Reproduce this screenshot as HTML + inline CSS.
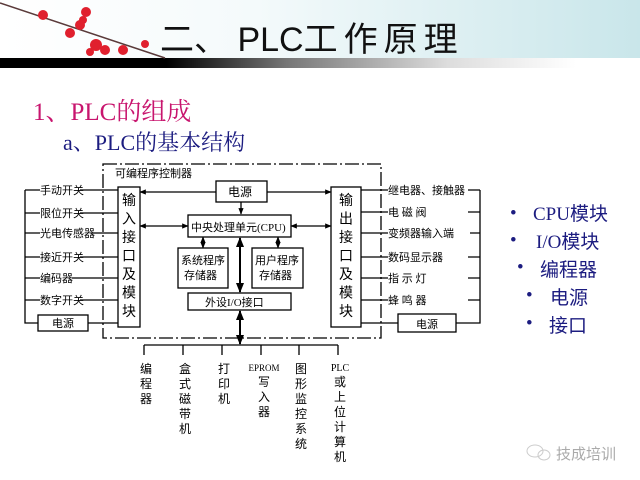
<!DOCTYPE html>
<html><head><meta charset="utf-8"><style>
body{margin:0;width:640px;height:480px;overflow:hidden;background:#fff;position:relative;font-family:"Liberation Serif","Noto Serif CJK SC",serif}
.hdr{position:absolute;left:0;top:0;width:640px;height:58px;background:linear-gradient(90deg,#fff 0%,#f4fafb 40%,#c9e6ea 100%)}
.bar{position:absolute;left:0;top:58px;width:640px;height:10px;background:linear-gradient(90deg,#000 0%,#000 26%,#777 45%,#ddd 70%,#fff 90%)}
.t{position:absolute;white-space:nowrap}
</style></head><body>
<div class="hdr"></div>
<div class="bar"></div>
<svg style="position:absolute;left:0;top:0" width="200" height="60">
<line x1="0" y1="3" x2="165" y2="58" stroke="#5a3a3a" stroke-width="1.5"/>
<g fill="#e0202e">
<circle cx="43" cy="15" r="5"/><circle cx="86" cy="12" r="5"/><circle cx="83" cy="20" r="4"/><circle cx="80" cy="25" r="5"/>
<circle cx="70" cy="33" r="5"/><circle cx="96" cy="45" r="6"/><circle cx="105" cy="50" r="5"/><circle cx="123" cy="50" r="5"/><circle cx="145" cy="44" r="4"/><circle cx="90" cy="52" r="4"/></g>
</svg>
<div class="t" style="left:160px;top:12px;font-size:34px;font-family:'Liberation Sans','Noto Sans CJK SC',sans-serif;color:#111">二、 PLC<span style="letter-spacing:6px">工作原理</span></div>
<div class="t" style="left:33px;top:92px;font-size:25px;color:#c8156e">1、PLC的组成</div>
<div class="t" style="left:63px;top:126px;font-size:22px;color:#1c1c80">a、PLC的基本结构</div>

<svg style="position:absolute;left:0;top:0" width="640" height="480" font-family="'Liberation Serif','Noto Sans CJK SC',sans-serif" font-size="11">
<defs><marker id="a" viewBox="0 0 10 10" refX="9" refY="5" markerWidth="6" markerHeight="5" orient="auto-start-reverse"><path d="M0,1 L10,5 L0,9z" fill="#000"/></marker></defs>
<g fill="none" stroke="#000" stroke-width="1.3">
<rect x="103" y="164" width="278" height="174" stroke-dasharray="14,3,2,3"/>
<rect x="118" y="187" width="22" height="140" fill="#fff"/>
<rect x="331" y="187" width="30" height="140" fill="#fff"/>
<rect x="216" y="181" width="51" height="21"/>
<rect x="188" y="215" width="103" height="22"/>
<rect x="178" y="248" width="50" height="40"/>
<rect x="252" y="248" width="51" height="40"/>
<rect x="188" y="293" width="103" height="17"/>
<rect x="38" y="315" width="50" height="16"/>
<rect x="398" y="314" width="58" height="18"/>
<path d="M25,190 V323 H38 M88,323 H118"/>
<path d="M480,190 V323 H456 M398,323 H361"/>
<path d="M25,190H40 M80,190H118 M25,213H40 M80,213H118 M25,233H40 M92,233H118 M25,257H40 M80,257H118 M25,278H40 M72,278H118 M25,300H40 M80,300H118"/>
<path d="M361,190H388 M468,190H480 M361,212H388 M468,212H480 M361,233H388 M470,233H480 M361,257H388 M468,257H480 M361,278H388 M468,278H480 M361,300H388 M468,300H480"/>
<path d="M140,192H216" marker-start="url(#a)"/><path d="M267,192H331" marker-end="url(#a)"/>
<path d="M241,202V214" marker-end="url(#a)"/>
<path d="M140,226H188" marker-start="url(#a)" marker-end="url(#a)"/>
<path d="M291,226H331" marker-start="url(#a)" marker-end="url(#a)"/>
<path d="M203,237V248" marker-start="url(#a)" marker-end="url(#a)"/>
<path d="M278,237V248" marker-start="url(#a)" marker-end="url(#a)"/>
<path d="M240,238V292" stroke-width="2" marker-start="url(#a)" marker-end="url(#a)"/>
<path d="M240,311V344" stroke-width="2" marker-start="url(#a)" marker-end="url(#a)"/>
<path d="M144,345H338 M144,345V355 M183,345V355 M222,345V355 M261,345V355 M299,345V355 M338,345V355"/>
</g>
<g fill="#000">
<text x="115" y="177">可编程序控制器</text>
<text x="228" y="196" font-size="12">电源</text>
<text x="191" y="231" font-size="11">中央处理单元(CPU)</text>
<text x="181" y="264">系统程序</text><text x="184" y="279">存储器</text>
<text x="255" y="264">用户程序</text><text x="259" y="279">存储器</text>
<text x="205" y="306">外设I/O接口</text>
<text x="52" y="327">电源</text><text x="416" y="328">电源</text>
<text x="40" y="194">手动开关</text><text x="40" y="217">限位开关</text><text x="40" y="237">光电传感器</text><text x="40" y="261">接近开关</text><text x="40" y="282">编码器</text><text x="40" y="304">数字开关</text>
<text x="388" y="194">继电器、接触器</text><text x="388" y="216">电 磁 阀</text><text x="388" y="237">变频器输入端</text><text x="388" y="261">数码显示器</text><text x="388" y="282">指 示 灯</text><text x="388" y="304">蜂 鸣 器</text>
<g font-size="14" text-anchor="middle">
<text x="129" y="205">输</text><text x="129" y="223.5">入</text><text x="129" y="242">接</text><text x="129" y="260.5">口</text><text x="129" y="279">及</text><text x="129" y="297.5">模</text><text x="129" y="316">块</text>
<text x="346" y="205">输</text><text x="346" y="223.5">出</text><text x="346" y="242">接</text><text x="346" y="260.5">口</text><text x="346" y="279">及</text><text x="346" y="297.5">模</text><text x="346" y="316">块</text>
</g>
<g font-size="12" text-anchor="middle">
<text x="146" y="373">编</text><text x="146" y="388">程</text><text x="146" y="403">器</text>
<text x="185" y="373">盒</text><text x="185" y="388">式</text><text x="185" y="403">磁</text><text x="185" y="418">带</text><text x="185" y="433">机</text>
<text x="224" y="373">打</text><text x="224" y="388">印</text><text x="224" y="403">机</text>
<text x="264" y="371" font-size="9">EPROM</text><text x="264" y="386">写</text><text x="264" y="401">入</text><text x="264" y="416">器</text>
<text x="301" y="373">图</text><text x="301" y="388">形</text><text x="301" y="403">监</text><text x="301" y="418">控</text><text x="301" y="433">系</text><text x="301" y="448">统</text>
<text x="340" y="371" font-size="10">PLC</text><text x="340" y="386">或</text><text x="340" y="401">上</text><text x="340" y="416">位</text><text x="340" y="431">计</text><text x="340" y="446">算</text><text x="340" y="461">机</text>
</g>
</g>
<g fill="#1c1c80" font-size="19">
<text x="510" y="219">•</text><text x="533" y="220">CPU模块</text>
<text x="510" y="246">•</text><text x="536" y="248">I/O模块</text>
<text x="517" y="273">•</text><text x="540" y="276">编程器</text>
<text x="526" y="301">•</text><text x="550" y="304">电源</text>
<text x="526" y="329">•</text><text x="549" y="332">接口</text>
</g>
<g fill="none" stroke="#ccc"><ellipse cx="535" cy="451" rx="8" ry="6"/><ellipse cx="544" cy="455" rx="6" ry="5"/></g>
<text x="556" y="459" fill="#aaa" font-size="15" font-family="'Liberation Sans','Noto Sans CJK SC',sans-serif">技成培训</text>
</svg>
</body></html>
